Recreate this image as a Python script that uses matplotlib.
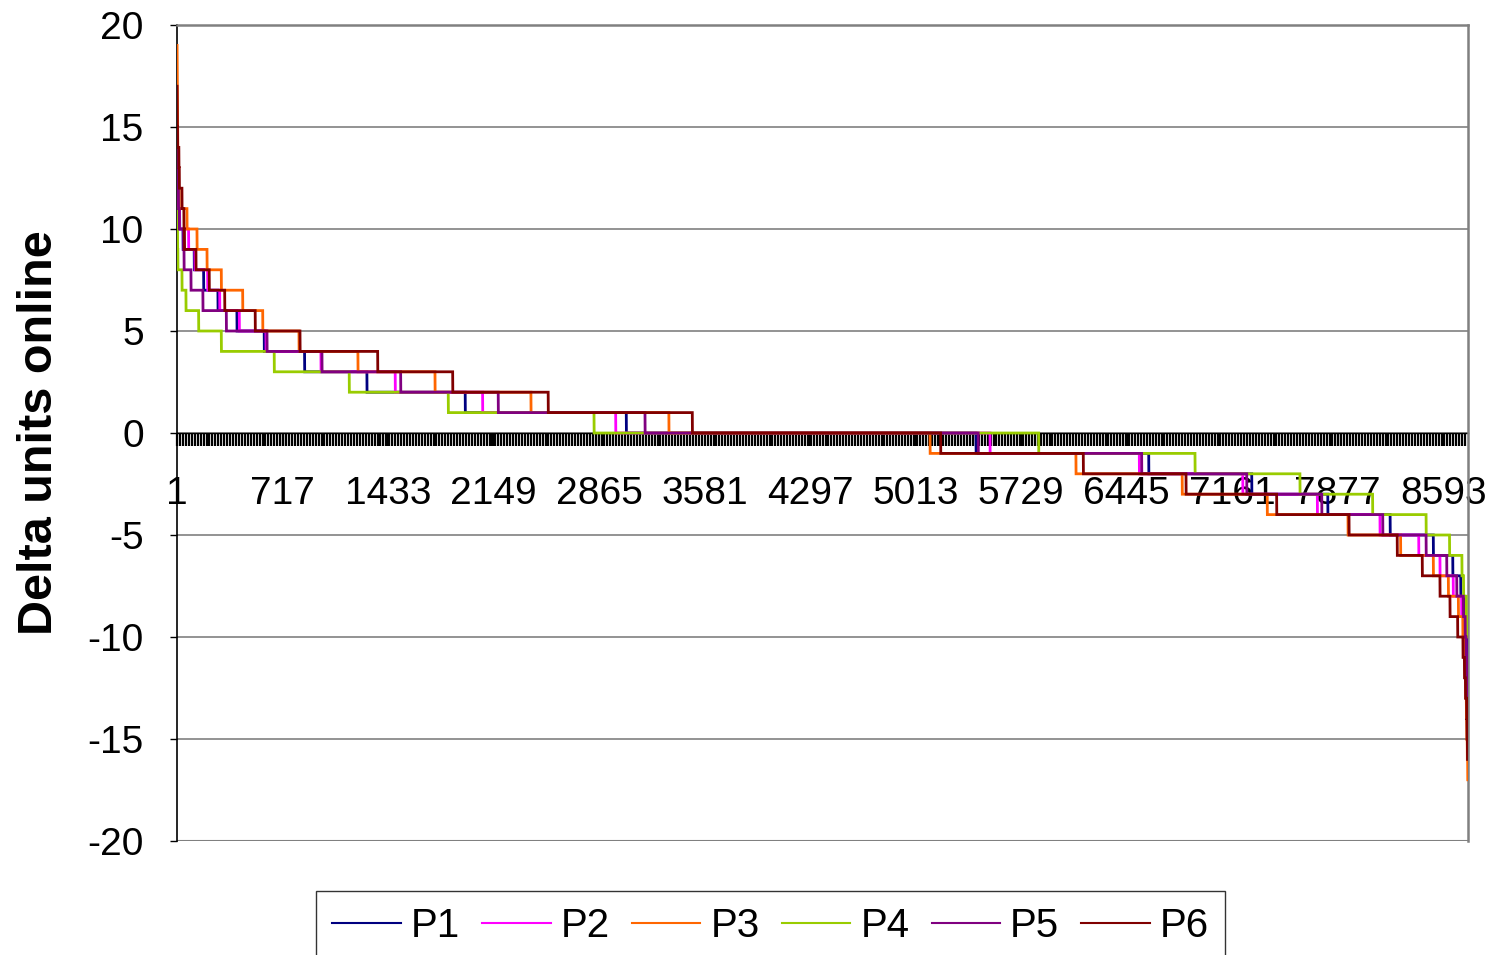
import numpy as np
import matplotlib
matplotlib.use("Agg")
import matplotlib.pyplot as plt

plt.rcParams['font.family'] = ['Liberation Sans', 'DejaVu Sans']

N_HOURS = 8760
series_names = ["P1", "P2", "P3", "P4", "P5", "P6"]
series_colors = ["#000080", "#FF00FF", "#FF6600", "#99CC00", "#800080", "#800000"]

# Each sorted series: its top value and the hour index at which it steps down by one unit
p1_top = 12
p1_breaks = [2, 18, 41, 117, 181, 278, 407, 592, 866, 1289, 1956, 3049, 5422, 6594,
             7293, 7809, 8232, 8525, 8657, 8711, 8734, 8744, 8751, 8756]
p2_top = 12
p2_breaks = [7, 17, 79, 122, 208, 290, 423, 604, 977, 1481, 2074, 2977, 5517, 6530,
             7232, 7738, 8163, 8426, 8570, 8660, 8717, 8736, 8746, 8754]
p3_top = 19
p3_breaks = [1, 2, 3, 4, 5, 7, 10, 15, 68, 136, 204, 301, 446, 582, 828, 1228, 1751,
             2402, 3338, 5110, 6100, 6821, 7398, 7946, 8303, 8525, 8627, 8695, 8725,
             8734, 8740, 8745, 8749, 8752, 8755, 8758]
p4_top = 11
p4_breaks = [2, 4, 6, 34, 61, 147, 301, 660, 1169, 1841, 2830, 5847, 6908, 7620, 8113,
             8476, 8635, 8719, 8730, 8748, 8754]
p5_top = 14
p5_breaks = [2, 5, 10, 16, 44, 48, 95, 176, 335, 611, 984, 1518, 2180, 3176, 5437, 6546,
             7259, 7768, 8182, 8476, 8616, 8684, 8729, 8741, 8747, 8751, 8755]
p6_top = 17
p6_breaks = [1, 2, 4, 13, 16, 34, 47, 51, 129, 219, 324, 531, 835, 1362, 1871, 2519,
             3497, 5182, 6150, 6847, 7462, 7953, 8280, 8450, 8570, 8638, 8690, 8726,
             8736, 8743, 8751, 8753, 8756]

tops = [p1_top, p2_top, p3_top, p4_top, p5_top, p6_top]
breaks_all = [p1_breaks, p2_breaks, p3_breaks, p4_breaks, p5_breaks, p6_breaks]

x_tick_labels = ["1", "717", "1433", "2149", "2865", "3581", "4297", "5013",
                 "5729", "6445", "7161", "7877", "8593"]
y_ticks = [-20, -15, -10, -5, 0, 5, 10, 15, 20]


def build(top, brk):
    levels = top - np.arange(len(brk) + 1)
    edges = np.concatenate([[0], brk, [N_HOURS]])
    return np.repeat(levels, np.diff(edges))


hours = np.arange(1, N_HOURS + 1)

fig = plt.figure(figsize=(14.92, 9.55), dpi=100)
ax = fig.add_axes([177 / 1492, 1 - 841 / 955, (1468 - 177) / 1492, (841 - 25) / 955])

for name, col, top, brk in zip(series_names, series_colors, tops, breaks_all):
    ax.plot(hours, build(top, brk), color=col, lw=2.0, label=name, zorder=3,
            solid_joinstyle='miter')

ax.set_xlim(0.5, N_HOURS + 0.5)
ax.set_ylim(-20, 20)

# y axis
ax.set_yticks(y_ticks)
ax.set_yticklabels([str(v) for v in y_ticks], fontsize=28)
ax.tick_params(axis='y', direction='out', length=5, width=1.0, pad=19, color='black')
ax.yaxis.grid(True, color='#808080', lw=1.2, zorder=0)
ax.set_axisbelow(True)

# x axis crossing at y=0
ax.spines['bottom'].set_position(('data', 0))
ax.spines['bottom'].set_color('black')
ax.spines['bottom'].set_linewidth(1.0)
ax.spines['bottom'].set_zorder(2)
label_pos = [int(s) for s in x_tick_labels]
ax.set_xticks(label_pos)
ax.set_xticklabels(x_tick_labels, fontsize=28)
ax.set_xticks(np.arange(1, N_HOURS + 1, 20), minor=True)
ax.tick_params(axis='x', which='both', direction='out', length=9, width=1.6,
               pad=22, color='black')
ax.spines['left'].set_color('black')
ax.spines['left'].set_linewidth(1.2)
ax.spines['top'].set_color('#808080')
ax.spines['top'].set_linewidth(1.8)
ax.spines['right'].set_color('#808080')
ax.spines['right'].set_linewidth(1.8)
ax.axhline(-20, color='#808080', lw=1.5, zorder=0)

ax.set_ylabel("Delta units online", fontsize=35, fontweight='bold')
ax.yaxis.set_label_coords(-0.089, 0.5)

handles, labels = ax.get_legend_handles_labels()
leg = fig.legend(handles, labels, loc='upper left',
                 bbox_to_anchor=(316 / 1492, 1 - 891 / 955), ncol=6, fontsize=29,
                 frameon=True, fancybox=False, edgecolor='black',
                 handlelength=1.7, handletextpad=0.25, columnspacing=0.55,
                 borderpad=0.4, borderaxespad=0)
leg.get_frame().set_linewidth(1.0)
for ln in leg.get_lines():
    ln.set_linewidth(1.5)

fig.savefig("out.png", dpi=100)
